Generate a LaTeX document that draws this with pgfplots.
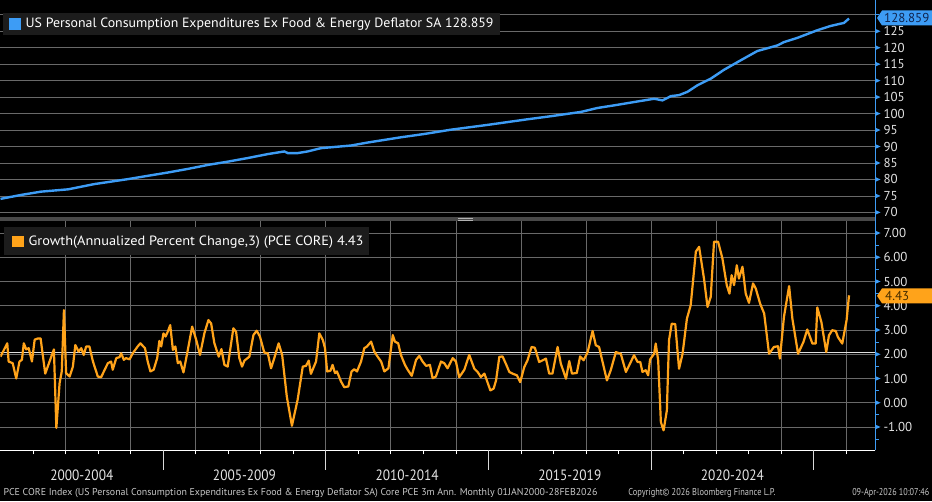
\documentclass[border=0pt]{standalone}
\usepackage{pgfplots}
\pgfplotsset{compat=1.18}
\usepackage{graphicx}
\usepackage{fontspec}
\setmainfont{PT Sans}

\definecolor{plblue}{RGB}{61,156,245}
\definecolor{plorange}{RGB}{255,163,26}
\definecolor{gridgray}{RGB}{105,105,105}
\definecolor{ticktext}{RGB}{228,228,228}
\definecolor{legbg}{RGB}{28,28,28}
\definecolor{sepgray}{RGB}{72,72,72}
\definecolor{foot}{RGB}{200,200,200}

% core PCE deflator, x = months since Jan 2000
\pgfplotstableread{
m v
0 74.1
7.6 75.3
15 76.3
24.9 77.0
34.7 78.6
47 80.1
54.3 81.1
61.7 82.1
69.1 83.2
76.4 84.4
83.8 85.4
91.2 86.5
98.6 87.7
104.7 88.5
106 88.0
109.6 88.0
113.3 88.5
118.2 89.5
129.3 90.3
135.4 91.2
147.7 92.8
156.3 93.8
166.1 95.1
180 96.6
193.8 98.2
203 99.2
214.1 100.5
220.2 101.7
226.4 102.5
233.7 103.5
241.1 104.5
244.2 104.0
247.3 105.3
250.3 105.6
253.4 106.6
257.1 108.6
262 110.6
266.9 113.3
273.1 116.2
279.2 119.0
282.3 119.7
286.6 120.7
289 121.7
294 123.0
301.3 125.3
306.2 126.6
309.9 127.3
311.1 127.5
313 128.859
}\deflator

% 3m annualized growth
\pgfplotstableread{
m v
0 1.90
2.5 2.45
3 1.70
4.5 1.63
5.8 1.00
7 1.70
7.9 1.77
8.6 2.45
9.5 2.20
10.4 2.25
11.6 1.70
12.6 2.60
13.8 2.65
14.8 2.65
16.5 1.20
18.1 1.70
19.7 2.20
20.6 -1.04
21.8 0.81
22.6 1.29
23.4 3.82
24.2 1.22
25.5 1.08
26.7 1.49
27.6 2.38
28.8 2.11
29.8 2.25
30.7 1.97
31.6 2.32
32.8 2.32
34.1 1.70
35.9 1.08
37.1 1.05
39.6 1.63
40.8 1.70
41.4 1.36
42.7 1.84
43.9 1.88
44.5 2.04
45.5 1.77
46.3 1.84
47.6 1.79
48.8 2.04
50.6 2.32
51.6 2.45
53.3 2.25
54.3 1.70
55.3 1.29
56.5 1.36
57.8 1.84
58.6 2.55
59.3 2.32
60.1 2.86
60.9 2.73
61.7 2.93
62.6 3.20
63.6 2.18
64.5 2.32
65.4 1.63
66.3 1.70
67.5 1.25
69.1 2.18
70.7 3.14
72.2 2.59
73.6 1.97
75.2 2.86
76.7 3.41
77.7 3.27
78.9 2.45
80.5 1.90
81.5 2.21
82.6 1.56
83.8 1.49
85.9 3.07
86.9 2.93
88.1 1.84
89.1 1.49
90.0 1.74
91.8 1.90
93.3 2.79
94.5 2.97
95.7 2.73
97.3 2.07
98.6 2.04
99.8 1.42
101.0 1.84
102.6 2.45
103.9 1.97
105.6 0.26
107.5 -0.95
109.6 0.12
111.5 1.49
112.7 1.52
113.7 1.74
114.5 1.19
116.4 1.70
117.6 2.86
118.9 2.59
119.7 2.25
120.5 1.29
121.7 1.32
122.5 1.56
123.4 1.22
124.1 1.29
125.6 0.88
126.8 0.64
128.3 0.67
129.5 1.29
130.5 1.38
131.5 1.29
133.0 1.70
134.2 2.25
135.2 2.32
136.7 2.52
137.9 2.11
139.1 1.90
140.4 1.70
141.6 1.29
143.1 1.42
144.7 2.79
145.5 2.52
146.7 2.45
147.7 1.97
149.2 1.56
150.2 1.36
151.7 1.11
153.3 1.77
154.5 1.93
155.7 1.70
157.0 1.52
158.4 1.56
159.4 1.01
160.6 1.08
162.5 1.70
163.7 1.63
164.9 1.42
166.8 1.84
168.0 1.70
169.2 1.05
171.1 1.36
172.9 1.97
174.8 1.40
176.0 1.27
177.2 1.06
178.5 1.20
179.4 0.92
180.7 0.51
181.9 0.58
182.8 0.92
184.0 1.89
185.2 1.91
186.4 1.61
187.7 1.27
188.9 1.20
190.5 1.13
191.7 0.85
193.2 1.47
194.4 1.75
195.9 2.30
197.1 2.27
198.7 1.68
200.0 1.75
201.2 1.82
202.4 1.20
203.6 1.20
205.5 2.30
206.7 1.61
208.6 0.99
209.8 1.72
210.8 1.20
212.6 1.23
213.8 1.91
215.1 1.75
216.6 2.09
218.4 2.96
219.6 2.37
220.8 2.30
222.1 1.68
223.7 0.92
225.1 1.34
227.0 2.09
228.8 2.02
230.7 1.27
231.9 1.54
233.7 1.96
235.0 1.68
236.0 1.68
236.8 1.27
238.0 1.34
238.9 1.13
239.6 1.78
241.1 2.02
241.7 2.44
242.6 1.75
243.6 -0.80
244.6 -1.14
245.8 -0.32
246.6 2.58
247.6 3.26
248.9 3.24
250.3 1.40
251.6 2.02
253.2 3.47
254.6 4.02
256.5 6.23
257.7 6.43
259.5 5.12
260.8 3.95
262.0 4.37
263.2 6.64
264.7 6.64
266.3 5.95
267.9 4.85
268.9 4.50
269.7 5.26
270.6 4.85
271.6 5.67
272.4 5.12
273.7 5.61
274.9 4.50
276.1 4.12
277.6 4.92
278.6 4.71
280.2 4.09
281.7 3.68
283.5 2.02
285.3 2.30
286.8 2.33
287.5 1.82
289.0 3.54
290.9 4.81
292.1 3.47
294.2 2.02
296.2 2.51
297.6 3.02
299.5 2.44
300.7 2.44
301.3 3.93
302.8 3.33
304.6 2.09
305.6 2.78
306.8 2.99
308.1 2.96
308.9 2.71
310.5 2.44
312.1 3.40
313.0 4.43
}\growth

\newcommand{\periodlabel}[1]{\resizebox{63bp}{\height}{\fontsize{15}{15}\selectfont #1}}

\begin{document}
\begin{tikzpicture}[x=1bp,y=1bp]
\fill[black] (0,0) rectangle (932,501);

% top panel
\begin{axis}[
  at={(0bp,285bp)}, anchor=south west, scale only axis,
  width=875bp, height=206bp,
  xmin=0, xmax=322.6, ymin=68.79, ymax=131.3,
  axis x line=none, axis y line*=right,
  y axis line style={plblue, line width=1bp},
  ytick={70,75,...,125},
  extra y ticks={130}, extra y tick labels={},
  ymajorgrids, grid style={gridgray, line width=0.8bp},
  tick align=outside, major tick length=4bp,
  tick style={plblue, line width=1bp},
  yticklabel style={ticktext, font=\fontsize{13}{13}\selectfont, xshift=1bp},
  /pgf/number format/assume math mode=true,
  clip mode=individual]
\addplot[plblue, line width=2.4bp] table[x=m, y=v] {\deflator};
\pgfplotsinvokeforeach{70,75,80,85,90,95,100,105,110,115,120,125}{
  \fill[plblue] (axis cs:322.6,#1) ++(0bp,2.5bp) -- ++(5.5bp,-2.5bp) -- ++(-5.5bp,-2.5bp) -- cycle;}
\end{axis}

% bottom panel
\begin{axis}[
  at={(0bp,51bp)}, anchor=south west, scale only axis,
  width=875bp, height=229bp,
  xmin=0, xmax=322.6, ymin=-1.96, ymax=7.48,
  axis x line*=bottom, axis y line*=right,
  x axis line style={white, line width=1bp},
  y axis line style={plblue, line width=1bp},
  xtick={24,48,...,312}, minor xtick={12,36,...,300},
  xticklabel=\empty,
  ytick={-1,0,...,7},
  minor ytick={-1.5,-0.5,0.5,1.5,2.5,3.5,4.5,5.5,6.5},
  xmajorgrids, ymajorgrids, grid style={gridgray, line width=0.8bp},
  tick align=outside, major tick length=4bp, minor tick length=4bp,
  every x tick/.append style={white, line width=0.8bp},
  every y tick/.append style={plblue, line width=1bp},
  yticklabel style={ticktext, font=\fontsize{13}{13}\selectfont, xshift=1bp,
    /pgf/number format/.cd, fixed, fixed zerofill, precision=2},
  /pgf/number format/assume math mode=true,
  clip mode=individual]
\addplot[white!88!black, line width=1bp] coordinates {(0,2.08) (322.6,2.08)};
\addplot[plorange, line width=2.2bp, line join=round] table[x=m, y=v] {\growth};
\pgfplotsinvokeforeach{-1,0,1,2,3,4,5,6,7}{
  \fill[plblue] (axis cs:322.6,#1) ++(0bp,2.5bp) -- ++(5.5bp,-2.5bp) -- ++(-5.5bp,-2.5bp) -- cycle;}
\pgfplotsinvokeforeach{60,120,180,240,300}{
  \draw[white!85!black, line width=0.8bp] (axis cs:#1,-1.96) -- ++(0bp,-20bp);}
\node[text=ticktext, inner sep=0pt, yshift=-25bp] at (axis cs:30,-1.96) {\periodlabel{2000-2004}};
\node[text=ticktext, inner sep=0pt, yshift=-25bp] at (axis cs:90,-1.96) {\periodlabel{2005-2009}};
\node[text=ticktext, inner sep=0pt, yshift=-25bp] at (axis cs:150,-1.96) {\periodlabel{2010-2014}};
\node[text=ticktext, inner sep=0pt, yshift=-25bp] at (axis cs:210,-1.96) {\periodlabel{2015-2019}};
\node[text=ticktext, inner sep=0pt, yshift=-25bp] at (axis cs:270,-1.96) {\periodlabel{2020-2024}};
\end{axis}

% panel separator and right axis line
\fill[sepgray] (0,280.3) rectangle (875,284);
\draw[gray!60, line width=0.6bp] (458,283) -- (473,283) (458,281.3) -- (473,281.3);
\draw[plblue, line width=1bp] (875,51) -- (875,501);

% legends
\fill[legbg] (3,466) rectangle (500,488);
\fill[plblue] (9,471) rectangle (21,483);
\node[anchor=west, text=white, inner sep=0pt] at (25,477)
  {\resizebox{468bp}{\height}{\fontsize{13.5}{14}\selectfont US Personal Consumption Expenditures Ex Food \& Energy Deflator SA 128.859}};

\fill[legbg] (4,246) rectangle (369,274);
\fill[plorange] (12,254) rectangle (24,265);
\node[anchor=west, text=white, inner sep=0pt] at (28,259)
  {\resizebox{335bp}{\height}{\fontsize{13.5}{14}\selectfont Growth(Annualized Percent Change,3) (PCE CORE) 4.43}};

% last value callouts
\fill[plblue] (877,483.5) -- (882,491) -- (932,491) -- (932,476) -- (882,476) -- cycle;
\node[anchor=west, text={rgb,255:red,16;green,36;blue,78}, inner sep=0pt, font=\fontsize{13}{13}\selectfont] at (884,483.5) {128.859};
\fill[plorange] (877,205.5) -- (882,213) -- (932,213) -- (932,198) -- (882,198) -- cycle;
\node[anchor=west, text={rgb,255:red,70;green,45;blue,0}, inner sep=0pt, font=\fontsize{13}{13}\selectfont] at (885,205.5) {4.43};

% footer
\node[anchor=west, text=foot, inner sep=0pt] at (3,8)
  {\resizebox{594bp}{\height}{\fontsize{10}{10}\selectfont PCE CORE Index (US Personal Consumption Expenditures Ex Food \& Energy Deflator SA) Core PCE 3m Ann. Monthly 01JAN2000-28FEB2026}};
\node[anchor=west, text=foot, inner sep=0pt] at (628,8)
  {\resizebox{147bp}{\height}{\fontsize{10}{10}\selectfont Copyright© 2026 Bloomberg Finance L.P.}};
\node[anchor=west, text=foot, inner sep=0pt] at (852,8)
  {\resizebox{77bp}{\height}{\fontsize{10}{10}\selectfont 09-Apr-2026 10:07:46}};
\end{tikzpicture}
\end{document}
